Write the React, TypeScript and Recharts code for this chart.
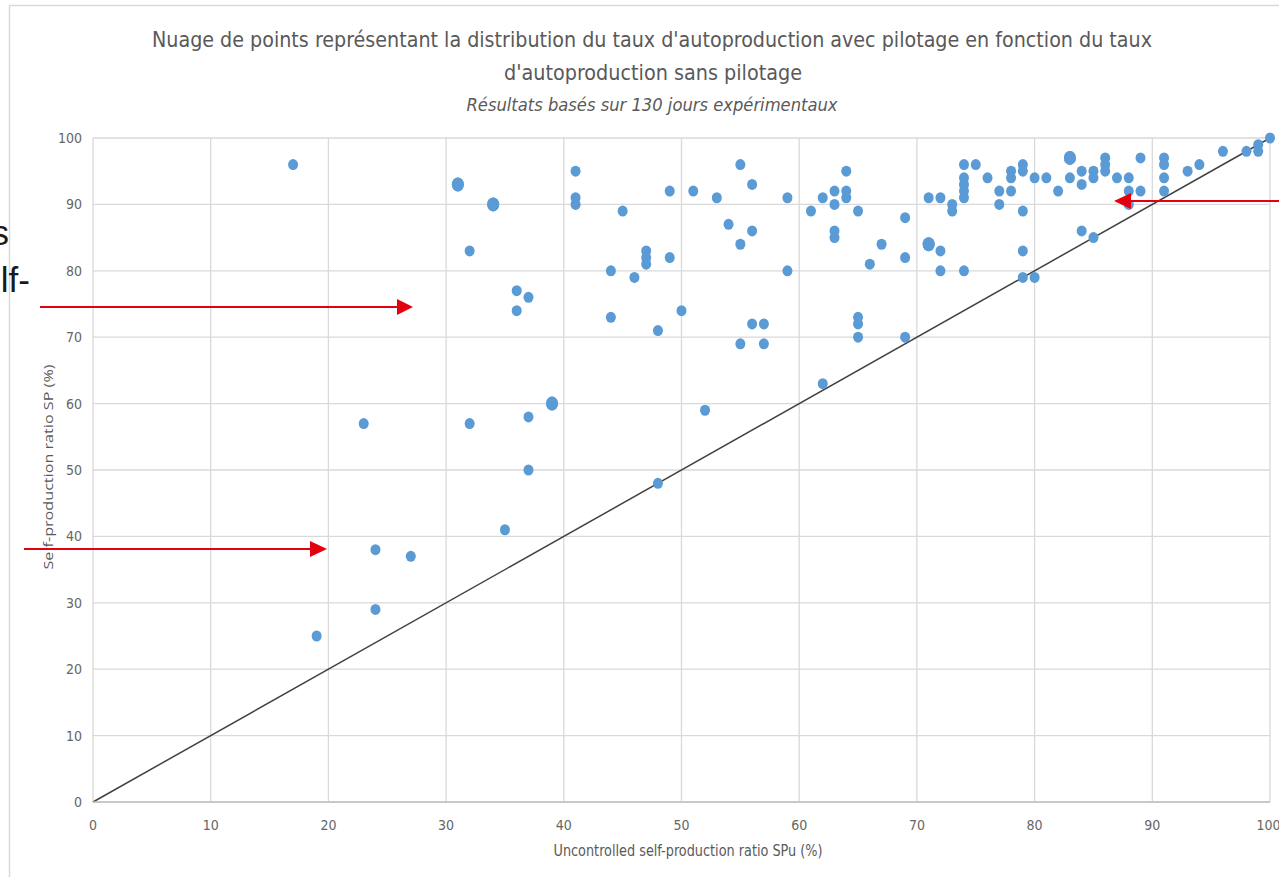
import React from 'react';
import {
  ScatterChart,
  Scatter,
  XAxis,
  YAxis,
  CartesianGrid,
  ReferenceLine
} from 'recharts';

// uncontrolled self-production ratio (x) and self-production ratio with control (y), one entry per day
const spuValues = [
  17, 19, 23, 24, 24, 27, 31, 31, 32, 32, 34, 34, 35, 36, 36, 37, 37, 37, 39, 39,
  41, 41, 41, 44, 44, 45, 46, 47, 47, 47, 48, 48, 49, 49, 50, 51, 52, 53, 54, 55,
  55, 55, 56, 56, 56, 57, 57, 59, 59, 61, 62, 62, 63, 63, 63, 63, 64, 64, 64, 65,
  65, 65, 65, 66, 67, 69, 69, 69, 71, 71, 71, 72, 72, 72, 73, 73, 74, 74, 74, 74,
  74, 74, 75, 76, 77, 77, 78, 78, 78, 79, 79, 79, 79, 79, 80, 80, 81, 82, 83, 83,
  83, 84, 84, 84, 85, 85, 85, 86, 86, 86, 87, 88, 88, 88, 89, 89, 91, 91, 91, 91,
  93, 94, 96, 98, 99, 99, 100
];
const spValues = [
  96, 25, 57, 38, 29, 37, 93, 93, 83, 57, 90, 90, 41, 77, 74, 76, 58, 50, 60, 60,
  95, 91, 90, 80, 73, 89, 79, 83, 82, 81, 71, 48, 92, 82, 74, 92, 59, 91, 87, 96,
  84, 69, 93, 86, 72, 72, 69, 91, 80, 89, 91, 63, 92, 90, 86, 85, 95, 92, 91, 89,
  73, 72, 70, 81, 84, 88, 82, 70, 91, 84, 84, 91, 83, 80, 90, 89, 96, 94, 93, 92,
  91, 80, 96, 94, 92, 90, 95, 94, 92, 96, 95, 89, 83, 79, 94, 79, 94, 92, 97, 97,
  94, 95, 93, 86, 95, 94, 85, 97, 96, 95, 94, 94, 92, 90, 97, 92, 97, 96, 94, 92,
  95, 96, 98, 98, 99, 98, 100
];
const axisTicks = [0, 10, 20, 30, 40, 50, 60, 70, 80, 90, 100];

const titleLine1 =
  "Nuage de points représentant la distribution du taux d'autoproduction avec pilotage en fonction du taux";
const titleLine2 = "d'autoproduction sans pilotage";
const subtitle = 'Résultats basés sur 130 jours expérimentaux';
const xTitle = 'Uncontrolled self-production ratio SPu (%)';
const yTitle = 'Self-production ratio SP (%)';

const narrow = "'Liberation Sans Narrow', 'DejaVu Sans Condensed', 'Roboto', sans-serif";
const textGrey = '#595959';
const red = '#e3000f';

// repeated days are drawn as a slightly bigger dot
const data = spuValues.map((x, i) => ({
  x,
  y: spValues[i],
  n: spuValues.filter((v, j) => v === x && spValues[j] === spValues[i]).length
}));

const Dot = (props: any) => {
  const { cx, cy, payload } = props;
  const big = payload.n > 1;
  return <ellipse cx={cx} cy={cy} rx={big ? 6 : 5} ry={big ? 7 : 5.5} fill="#5b9bd5" />;
};

export default function App() {
  return (
    <div style={{ position: 'absolute', left: 0, top: 0, width: 1279, height: 877, background: '#fff', overflow: 'hidden' }}>
      <ScatterChart width={1279} height={877} margin={{ top: 138, right: 9, bottom: 45, left: 0 }}>
        <CartesianGrid stroke="#d9d9d9" strokeWidth={1.3} />
        <XAxis
          type="number"
          dataKey="x"
          domain={[0, 100]}
          ticks={axisTicks}
          height={30}
          tickLine={false}
          tickSize={0}
          tickMargin={18}
          axisLine={{ stroke: '#bfbfbf', strokeWidth: 1.5 }}
          tick={{ fill: '#666666', fontSize: 14, fontFamily: narrow }}
        />
        <YAxis
          type="number"
          dataKey="y"
          domain={[0, 100]}
          ticks={axisTicks}
          width={93}
          tickLine={false}
          tickSize={0}
          tickMargin={11}
          axisLine={false}
          tick={{ fill: '#666666', fontSize: 14, fontFamily: narrow }}
        />
        <ReferenceLine
          segment={[{ x: 0, y: 0 }, { x: 100, y: 100 }]}
          stroke="#404040"
          strokeWidth={1.5}
          ifOverflow="visible"
        />
        <Scatter data={data} shape={Dot} isAnimationActive={false} />
      </ScatterChart>

      <svg width={1279} height={877} style={{ position: 'absolute', left: 0, top: 0, pointerEvents: 'none' }}>
        <rect x={9.5} y={5.5} width={1400} height={1000} fill="none" stroke="#d9d9d9" strokeWidth={1.5} />

        <text x={652} y={47} textAnchor="middle" fontSize={22} fill={textGrey} fontFamily={narrow}
          textLength={1000} lengthAdjust="spacingAndGlyphs">{titleLine1}</text>
        <text x={653} y={80} textAnchor="middle" fontSize={22} fill={textGrey} fontFamily={narrow}
          textLength={298} lengthAdjust="spacingAndGlyphs">{titleLine2}</text>
        <text x={652} y={111} textAnchor="middle" fontSize={17} fontStyle="italic" fill={textGrey} fontFamily={narrow}
          textLength={371} lengthAdjust="spacingAndGlyphs">{subtitle}</text>

        <text x={688} y={856} textAnchor="middle" fontSize={16} fill={textGrey} fontFamily={narrow}
          textLength={269} lengthAdjust="spacingAndGlyphs">{xTitle}</text>
        <text transform="translate(53,467) rotate(-90)" textAnchor="middle" fontSize={13} fill={textGrey}
          fontFamily="'Open Sans', sans-serif" textLength={205} lengthAdjust="spacingAndGlyphs">{yTitle}</text>

        <text x={9} y={245} textAnchor="end" fontSize={35} fill="#1a1a1a" fontFamily="'Liberation Sans', Arial, sans-serif">s</text>
        <text x={30} y={292} textAnchor="end" fontSize={35} fill="#1a1a1a" fontFamily="'Liberation Sans', Arial, sans-serif">lf-</text>

        <line x1={40} y1={307} x2={398} y2={307} stroke={red} strokeWidth={2} />
        <polygon points="397,299 413,307 397,315" fill={red} />
        <line x1={24} y1={549} x2={312} y2={549} stroke={red} strokeWidth={2} />
        <polygon points="310,541 327,549 310,557" fill={red} />
        <line x1={1128} y1={201} x2={1279} y2={201} stroke={red} strokeWidth={2} />
        <polygon points="1131,193 1114,201 1131,209" fill={red} />
      </svg>
    </div>
  );
}
